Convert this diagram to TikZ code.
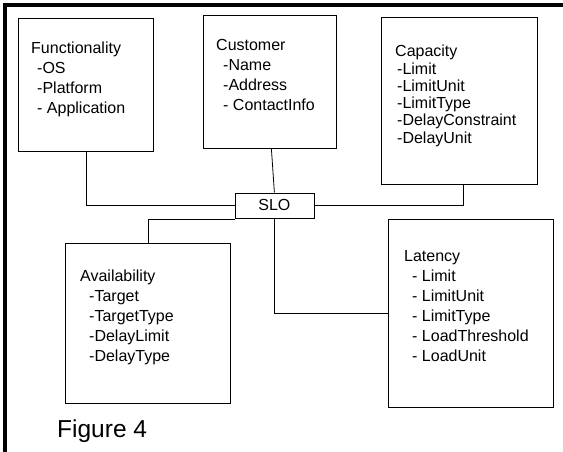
\documentclass[tikz,border=0pt]{standalone}
\usepackage{fontspec}
\setmainfont{Liberation Sans}
\usetikzlibrary{positioning}

\begin{document}
\begin{tikzpicture}[x=1pt, y=-1pt,
    every node/.style={font=\fontsize{16}{20}\selectfont},
    attrbox/.style={draw, line width=0.8pt, rectangle, anchor=north west, inner sep=0pt},
    attrtext/.style={anchor=north west, align=left, inner sep=0pt},
    link/.style={line width=0.8pt}]
    \useasboundingbox (0,0) rectangle (563,452);

    % Frame on the top and left
    \draw[line width=4pt] (5.3,452) -- (5.3,5.3) -- (563,5.3);

    % Attribute boxes
    \node[attrbox, minimum width=135pt, minimum height=133pt] (func) at (18,18) {};
    \node[attrbox, minimum width=133pt, minimum height=133pt] (cust) at (203,15) {};
    \node[attrbox, minimum width=156pt, minimum height=167pt] (capa) at (381,17) {};
    \node[attrbox, minimum width=165pt, minimum height=160pt] (avail) at (65,243) {};
    \node[attrbox, minimum width=165pt, minimum height=188pt] (laten) at (388,219) {};

    % Central SLO box
    \node[attrbox, minimum width=79pt, minimum height=25pt] (slo) at (234.5,192.5) {};
    \node (slotext) at (slo.center) {SLO};

    % Box contents
    \node[attrtext] (functext) at (31,42)
        {Functionality\\\hspace*{6pt}-OS\\\hspace*{6pt}-Platform\\\hspace*{6pt}- Application};
    \node[attrtext] (custtext) at (216,39)
        {Customer\\\hspace*{7pt}-Name\\\hspace*{7pt}-Address\\\hspace*{7pt}- ContactInfo};
    \node[attrtext, font=\fontsize{16}{17.3}\selectfont] (capatext) at (395,45)
        {Capacity\\\hspace*{2pt}-Limit\\\hspace*{2pt}-LimitUnit\\\hspace*{2pt}-LimitType\\\hspace*{2pt}-DelayConstraint\\\hspace*{2pt}-DelayUnit};
    \node[attrtext] (availtext) at (80,269.5)
        {Availability\\\hspace*{9pt}-Target\\\hspace*{9pt}-TargetType\\\hspace*{9pt}-DelayLimit\\\hspace*{9pt}-DelayType};
    \node[attrtext] (latentext) at (404,250.5)
        {Latency\\\hspace*{8pt}- Limit\\\hspace*{8pt}- LimitUnit\\\hspace*{8pt}- LimitType\\\hspace*{8pt}- LoadThreshold\\\hspace*{8pt}- LoadUnit};

    % Caption
    \node[anchor=base west, inner sep=0pt, font=\fontsize{24.5}{29}\selectfont] (caption) at (57,437) {Figure 4};

    % Connectors to SLO
    \draw[link] (func.south) |- (slo.west);
    \draw[link] ([xshift=1.5pt]cust.south) -- (slo.north);
    \draw[link] (slo.east) -| ([xshift=4pt]capa.south);
    \draw[link] ([yshift=-1.5pt]slo.south west) -| (avail.north);
    \draw[link] (slo.south) |- (laten.west);
\end{tikzpicture}
\end{document}
